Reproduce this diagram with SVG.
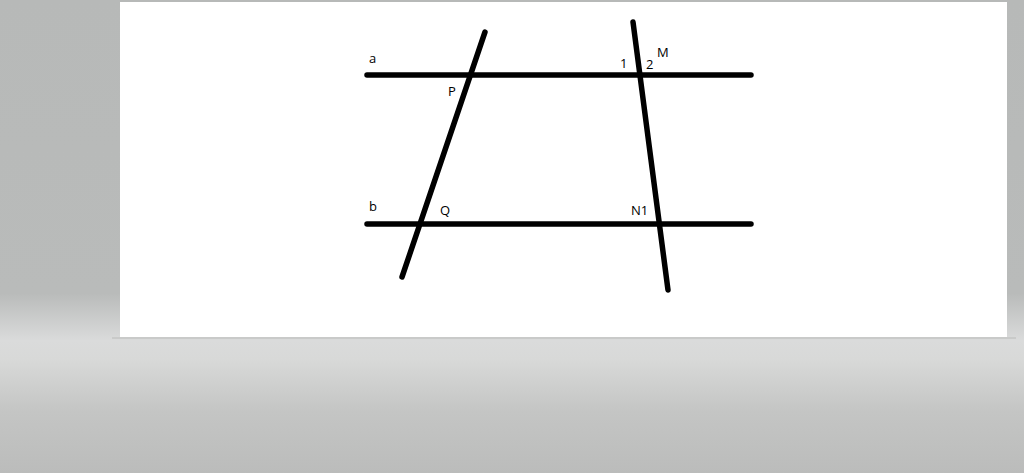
<svg xmlns="http://www.w3.org/2000/svg" width="1024" height="473" viewBox="0 0 1024 473">
<defs>
<linearGradient id="bg" x1="0" y1="0" x2="0" y2="1">
<stop offset="0" stop-color="#b7b9b8"/>
<stop offset="0.62" stop-color="#b9bbba"/>
<stop offset="0.72" stop-color="#dadbdb"/>
<stop offset="0.76" stop-color="#d8d9d8"/>
<stop offset="0.87" stop-color="#c4c5c4"/>
<stop offset="1" stop-color="#bbbcbb"/>
</linearGradient>
</defs>
<style>
.ln{stroke:#000;stroke-width:5.5;stroke-linecap:round;fill:none}
.lb{font-family:"Open Sans","Liberation Sans",sans-serif;font-size:13px;fill:#000}
</style>
<rect x="0" y="0" width="1024" height="473" fill="url(#bg)"/>
<rect x="112" y="337" width="904" height="2" fill="#c9cac9"/>
<rect x="120" y="2" width="887" height="335" fill="#fff"/>
<g id="connectors">
<line id="line-a" class="ln" x1="367" y1="75" x2="751" y2="75"/>
<line id="line-b" class="ln" x1="367" y1="224" x2="751" y2="224"/>
<line id="line-PQ" class="ln" x1="485" y1="32" x2="402" y2="277"/>
<line id="line-MN" class="ln" x1="633" y1="22" x2="668" y2="290"/>
</g>
<g id="label-a"><text class="lb" x="369" y="63">a</text></g>
<g id="label-P"><text class="lb" x="448" y="96">P</text></g>
<g id="label-1"><text class="lb" x="620" y="68">1</text></g>
<g id="label-2"><text class="lb" x="646" y="69">2</text></g>
<g id="label-M"><text class="lb" x="657" y="57">M</text></g>
<g id="label-b"><text class="lb" x="369" y="211">b</text></g>
<g id="label-Q"><text class="lb" x="440" y="215">Q</text></g>
<g id="label-N1"><text class="lb" x="631" y="215">N1</text></g>
</svg>
